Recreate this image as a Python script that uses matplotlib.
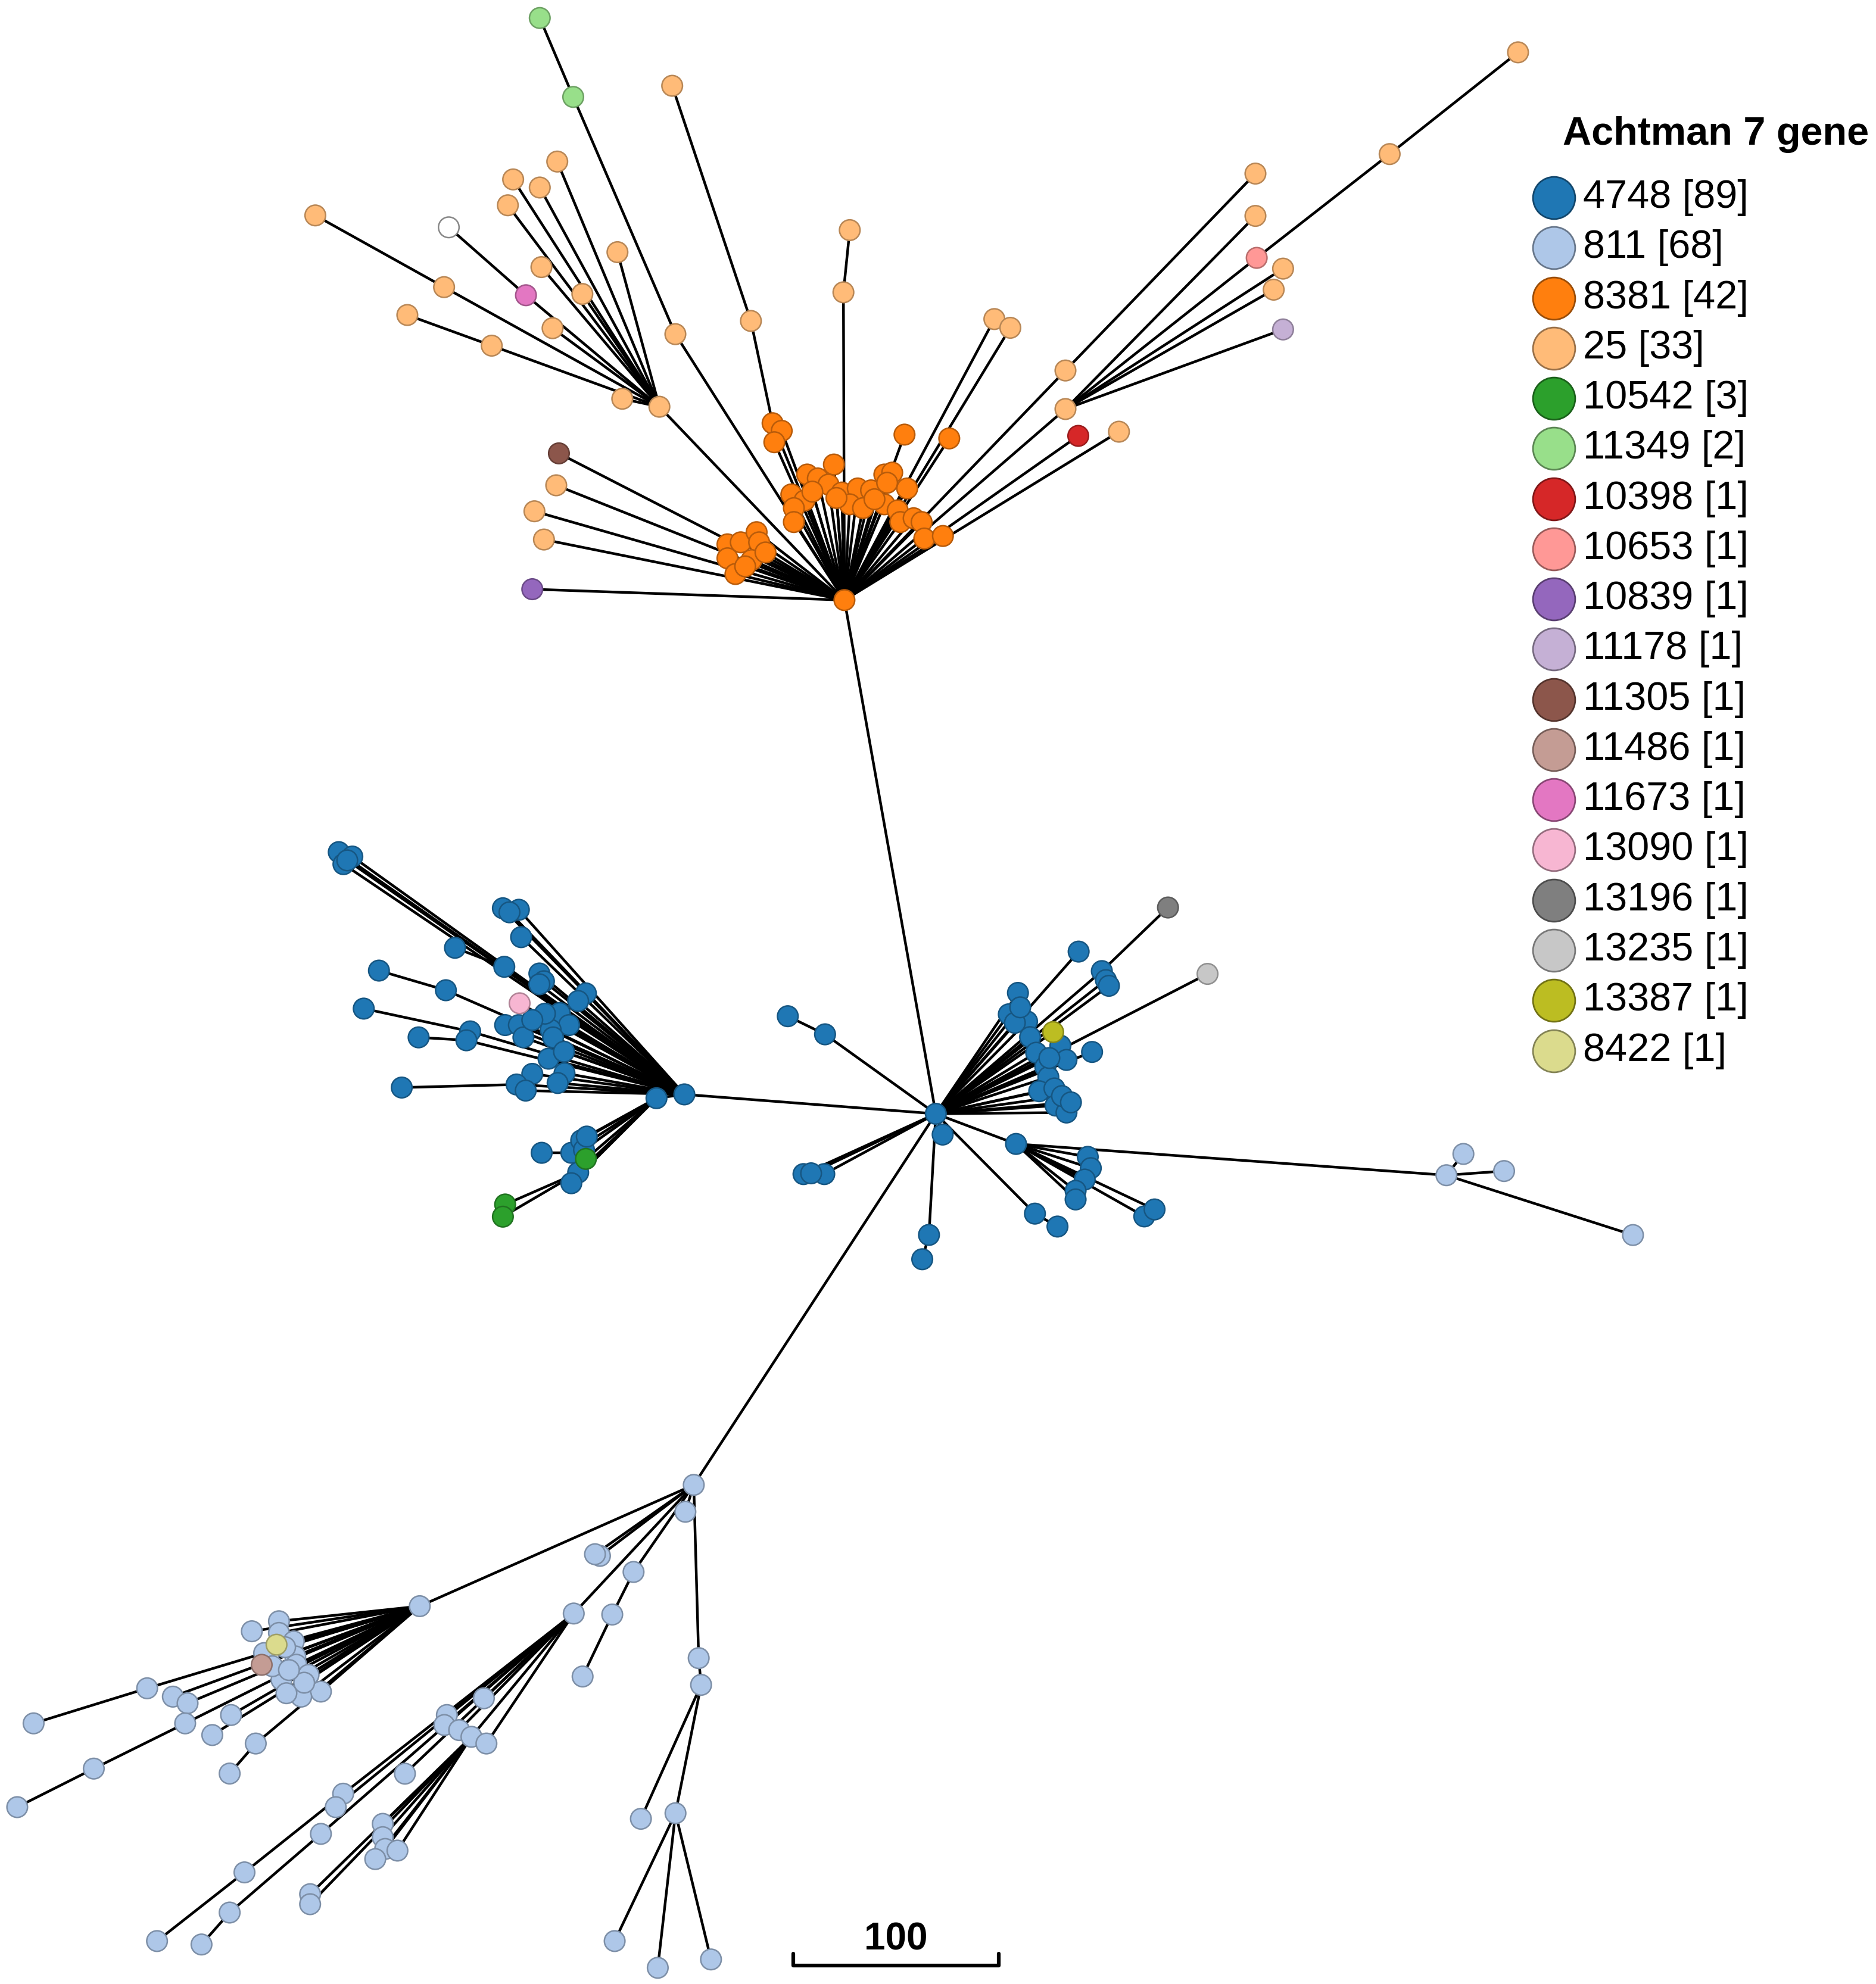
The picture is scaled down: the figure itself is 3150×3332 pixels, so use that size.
import matplotlib
matplotlib.use("Agg")
import matplotlib.pyplot as plt
from matplotlib.collections import LineCollection
import matplotlib.colors as mcolors

plt.rcParams['font.family'] = ['Liberation Sans', 'DejaVu Sans']

# ---------------- legend data ----------------
legend_st = ["4748", "811", "8381", "25", "10542", "11349", "10398", "10653", "10839",
             "11178", "11305", "11486", "11673", "13090", "13196", "13235", "13387", "8422"]
legend_counts = [89, 68, 42, 33, 3, 2, 1, 1, 1, 1, 1, 1, 1, 1, 1, 1, 1, 1]
legend_colors = ["#1f77b4", "#aec7e8", "#ff7f0e", "#ffbb78", "#2ca02c", "#98df8a", "#d62728",
                 "#ff9896", "#9467bd", "#c5b0d5", "#8c564b", "#c49c94", "#e377c2", "#f7b6d2",
                 "#7f7f7f", "#c7c7c7", "#bcbd22", "#dbdb8d"]
legend_title = "Achtman 7 gene"
scale_label = "100"
scale_length = 162  # layout units representing 100 allelic differences

# ---------------- tree nodes: (id, x, y, ST, parent) ----------------
center_nodes = [
    ("c", 738.4, 879.0, "4748", None),
    ("h0", 666.3, 473.6, "8381", "c"),
    ("B", 547.4, 1171.9, "811", "c"),
    ("L", 540.0, 863.7, "4748", "c"),
    ("L2", 518.0, 866.7, "4748", "L"),
    ("m1", 651.0, 816.3, "4748", "c"), ("m2", 621.6, 802.0, "4748", "m1"),
    ("m3", 650.4, 926.6, "4748", "c"), ("m4", 634.0, 926.6, "4748", "c"),
    ("m8", 640.0, 926.0, "4748", "c"),
    ("m5", 743.8, 895.4, "4748", "c"),
    ("m6", 733.0, 974.6, "4748", "c"), ("m7", 727.7, 993.8, "4748", "m6"),
]

orange_nodes = [
    ("o1", 609.6, 334.0), ("o2", 616.8, 340.0), ("o3", 611.0, 349.0), ("o4", 713.7, 343.0),
    ("o5", 749.0, 346.0), ("o6", 636.9, 374.5), ("o7", 645.3, 377.6), ("o8", 658.0, 366.6),
    ("o9", 653.7, 382.4), ("o10", 664.2, 388.7), ("o11", 676.8, 385.5), ("o12", 687.3, 387.0),
    ("o13", 697.8, 374.5), ("o14", 704.0, 373.0), ("o15", 715.8, 385.5), ("o16", 624.4, 390.2),
    ("o17", 634.8, 395.0), ("o18", 626.4, 401.0), ("o19", 626.4, 412.0), ("o20", 670.5, 398.0),
    ("o21", 681.0, 401.0), ("o22", 697.8, 398.0), ("o23", 708.3, 402.8), ("o24", 710.4, 412.0),
    ("o25", 720.9, 409.0), ("o26", 727.2, 412.0), ("o27", 729.3, 425.0), ("o28", 744.0, 423.0),
    ("o29", 574.0, 429.6), ("o30", 584.5, 428.0), ("o31", 597.0, 420.0), ("o32", 599.0, 428.0),
    ("o33", 574.0, 440.6), ("o34", 593.0, 442.0), ("o35", 580.3, 453.0), ("o36", 641.0, 388.0),
    ("o37", 690.0, 394.0), ("o38", 660.0, 393.0), ("o39", 604.0, 436.0), ("o40", 588.0, 447.0),
    ("o41", 700.0, 381.0),
]

top_nodes = [
    ("s1", 520.3, 321.0, "25", "h0"),
    ("a1", 350.4, 226.6, "25", "s1"), ("a2", 248.8, 170.0, "25", "a1"),
    ("a3", 388.0, 272.8, "25", "s1"), ("a4", 321.4, 248.6, "25", "a3"),
    ("a5", 491.0, 314.7, "25", "s1"),
    ("a6", 439.7, 127.5, "25", "s1"), ("a7", 404.9, 141.6, "25", "s1"),
    ("a8", 425.9, 148.0, "25", "s1"), ("a9", 400.7, 162.0, "25", "s1"),
    ("a10", 427.2, 210.8, "25", "s1"), ("a11", 459.5, 232.0, "25", "s1"),
    ("a12", 436.0, 259.0, "25", "s1"), ("a13", 487.2, 199.0, "25", "s1"),
    ("p1", 415.0, 233.0, "11673", "s1"), ("w1", 354.1, 179.4, "none", "p1"),
    ("a14", 532.9, 263.7, "25", "h0"), ("g1", 452.3, 76.5, "11349", "a14"),
    ("g2", 425.9, 14.2, "11349", "g1"),
    ("a15", 592.5, 253.3, "25", "o1"), ("a16", 530.4, 67.7, "25", "a15"),
    ("a17", 665.5, 230.7, "25", "h0"), ("a18", 670.5, 181.6, "25", "a17"),
    ("a19", 784.6, 251.8, "25", "h0"), ("a20", 797.2, 258.7, "25", "h0"),
    ("b1", 441.0, 357.8, "11305", "h0"), ("a21", 438.9, 383.0, "25", "h0"),
    ("a22", 421.7, 403.5, "25", "h0"), ("a23", 429.2, 425.8, "25", "h0"),
    ("pu1", 420.0, 465.0, "10839", "h0"),
    ("a24", 840.7, 292.4, "25", "h0"), ("a25", 990.6, 137.0, "25", "a24"),
    ("s2", 840.7, 322.8, "25", "h0"),
    ("a26", 990.6, 170.4, "25", "s2"), ("a27", 1012.4, 212.0, "25", "s2"),
    ("a28", 1005.0, 228.6, "25", "s2"), ("lv1", 1012.4, 260.0, "11178", "s2"),
    ("pk2", 991.6, 203.5, "10653", "s2"), ("a29", 1096.5, 121.6, "25", "pk2"),
    ("a30", 1197.8, 41.3, "25", "a29"),
    ("rd1", 850.8, 344.0, "10398", "h0"), ("a31", 882.9, 340.7, "25", "h0"),
]

left_nodes = [
    ("t1", 267.3, 672.5, "L"), ("t2", 278.0, 676.0, "L"), ("t3", 271.0, 682.0, "L"),
    ("t4", 274.0, 679.0, "L"), ("t5", 396.8, 716.8, "L"), ("t6", 409.4, 718.0, "L"),
    ("t7", 411.2, 739.6, "L"), ("t8", 402.0, 720.0, "L"), ("t9", 397.9, 763.0, "L"),
    ("t10", 359.0, 748.0, "t9"), ("t11", 351.8, 781.5, "L"), ("t12", 299.0, 766.0, "t11"),
    ("t13", 425.6, 768.3, "L"), ("t14", 429.2, 774.4, "L"), ("t15", 425.6, 776.8, "L"),
    ("t16", 462.3, 784.0, "L"), ("t17", 456.2, 790.0, "L"), ("t18", 371.0, 814.0, "L"),
    ("t19", 287.0, 796.0, "t18"), ("t20", 368.0, 821.0, "L"), ("t21", 441.7, 799.5, "L"),
    ("t22", 449.0, 809.0, "L"), ("t23", 398.6, 809.0, "L"), ("t24", 409.4, 809.0, "L"),
    ("t25", 413.0, 818.7, "L"), ("t26", 434.5, 812.7, "L"), ("t27", 436.4, 818.7, "L"),
    ("t28", 330.3, 818.7, "t20"), ("t29", 432.8, 835.5, "L"), ("t30", 420.0, 847.5, "L"),
    ("t31", 445.4, 847.0, "L"), ("t32", 440.0, 854.7, "L"), ("t33", 407.6, 855.9, "L"),
    ("t34", 317.0, 858.3, "t33"), ("t35", 414.8, 860.7, "L"), ("t36", 430.0, 800.0, "L"),
    ("t37", 420.0, 805.0, "L"), ("t38", 445.0, 830.0, "L"),
    ("u1", 450.8, 909.8, "L2"), ("u2", 427.4, 909.8, "u1"), ("u3", 458.6, 900.0, "L2"),
    ("u4", 460.8, 907.4, "L2"), ("u5", 456.2, 925.4, "L2"), ("u6", 450.8, 933.8, "L2"),
    ("u7", 463.0, 897.0, "L2"),
]
left_special = [
    ("pk3", 410.0, 791.8, "13090", "L"),
    ("gr1", 462.3, 914.6, "10542", "L2"),
    ("gr2", 398.6, 950.6, "10542", "u5"),
    ("gr3", 396.8, 960.2, "10542", "u5"),
]

right_nodes = [
    ("r1", 851.1, 751.0, "c"), ("r2", 869.4, 766.4, "c"), ("r3", 872.6, 773.5, "c"),
    ("r4", 875.0, 778.0, "c"), ("r5", 803.2, 783.6, "c"), ("r6", 796.0, 800.5, "c"),
    ("r7", 810.4, 806.1, "c"), ("r8", 800.8, 807.2, "c"), ("r9", 812.8, 818.5, "c"),
    ("r10", 836.7, 825.2, "c"), ("r11", 861.7, 830.2, "c"), ("r12", 817.6, 830.8, "c"),
    ("r13", 841.5, 836.5, "c"), ("r14", 824.8, 842.0, "c"), ("r15", 827.2, 850.0, "c"),
    ("r16", 820.0, 861.2, "c"), ("r17", 832.0, 859.0, "c"), ("r18", 832.9, 872.5, "c"),
    ("r19", 841.5, 878.0, "c"), ("r20", 805.0, 795.0, "c"), ("r21", 828.0, 835.0, "c"),
    ("r22", 838.0, 865.0, "c"), ("r23", 845.0, 870.0, "c"),
    ("q1", 801.7, 902.8, "c"), ("q2", 858.3, 913.0, "q1"), ("q3", 860.7, 921.9, "q1"),
    ("q4", 855.9, 930.9, "q1"), ("q5", 848.7, 939.8, "q1"), ("q6", 848.7, 946.6, "q1"),
    ("q7", 902.9, 960.0, "q1"), ("q8", 911.0, 954.5, "q1"),
    ("q9", 816.6, 957.8, "c"), ("q10", 834.4, 968.0, "q9"),
]
right_special = [
    ("gy1", 921.6, 716.2, "13196", "r2"),
    ("lg1", 952.8, 768.6, "13235", "c"),
    ("ol1", 831.0, 814.5, "13387", "c"),
]

lightblue_nodes = [
    ("n1", 1141.3, 927.5, "q1"), ("n2", 1154.7, 910.7, "n1"), ("n3", 1186.8, 924.2, "n1"),
    ("n4", 1288.5, 974.7, "n1"),
    ("v1", 540.8, 1193.1, "B"), ("v2", 473.4, 1227.9, "B"), ("v3", 469.5, 1226.6, "B"),
    ("v4", 499.9, 1240.6, "B"), ("v5", 483.1, 1274.2, "v4"), ("v6", 459.7, 1323.1, "v5"),
    ("v7", 551.3, 1308.6, "B"), ("v8", 553.2, 1329.7, "v7"), ("v9", 533.0, 1431.0, "v8"),
    ("v10", 505.7, 1435.4, "v8"), ("v11", 485.0, 1531.9, "v9"), ("v12", 519.0, 1553.0, "v9"),
    ("v13", 561.0, 1546.4, "v9"),
    ("S", 331.2, 1267.6, "B"),
    ("w1", 220.1, 1279.5, "S"), ("w2", 198.7, 1287.4, "S"), ("w3", 220.1, 1288.7, "S"),
    ("w4", 231.8, 1295.4, "S"), ("w5", 208.4, 1304.6, "S"), ("w6", 233.0, 1307.2, "S"),
    ("w7", 233.8, 1313.8, "S"), ("w8", 243.5, 1321.8, "S"), ("w9", 222.1, 1325.7, "S"),
    ("w10", 253.2, 1335.0, "S"), ("w11", 237.7, 1339.0, "S"), ("w12", 226.0, 1336.3, "S"),
    ("w13", 225.0, 1300.0, "S"), ("w14", 240.0, 1328.0, "S"), ("w15", 215.0, 1315.0, "S"),
    ("w16", 228.0, 1318.0, "S"),
    ("x1", 116.1, 1332.4, "S"), ("x2", 26.5, 1360.1, "x1"),
    ("x3", 136.4, 1339.0, "S"), ("x4", 148.0, 1344.2, "S"),
    ("x5", 146.1, 1360.1, "S"), ("x6", 74.0, 1395.8, "x5"), ("x7", 13.6, 1426.2, "x6"),
    ("x8", 182.3, 1353.5, "S"), ("x9", 167.5, 1369.3, "S"),
    ("x10", 201.8, 1376.0, "S"), ("x11", 181.2, 1399.7, "x10"),
    ("F", 452.7, 1273.4, "B"),
    ("y1", 381.8, 1340.3, "F"), ("y2", 352.6, 1353.5, "F"), ("y3", 350.6, 1361.4, "F"),
    ("y4", 362.3, 1365.4, "F"), ("y5", 372.0, 1370.7, "F"), ("y6", 383.8, 1376.0, "F"),
    ("y7", 319.5, 1399.8, "F"), ("y8", 270.8, 1415.6, "F"), ("y9", 192.9, 1477.7, "y8"),
    ("y10", 123.9, 1531.9, "y9"), ("y11", 264.9, 1426.2, "F"), ("y12", 253.2, 1447.3, "F"),
    ("y13", 181.2, 1509.4, "y12"), ("y14", 159.0, 1534.6, "y13"),
    ("z1", 302.0, 1439.4, "y5"), ("z2", 302.0, 1449.9, "y5"), ("z3", 303.9, 1459.2, "y5"),
    ("z4", 313.6, 1460.5, "y5"), ("z5", 296.1, 1467.2, "y5"), ("z6", 244.7, 1494.9, "y5"),
    ("z7", 244.7, 1502.8, "y5"),
]
bottom_special = [
    ("ye1", 218.2, 1298.0, "8422", "S"),
    ("br2", 206.5, 1313.9, "11486", "S"),
]

# ---------------- assemble ----------------
nodes = []
nodes += center_nodes
nodes += [(i, x, y, "8381", "h0") for i, x, y in orange_nodes]
nodes += top_nodes
nodes += [(i, x, y, "4748", p) for i, x, y, p in left_nodes]
nodes += left_special
nodes += [(i, x, y, "4748", p) for i, x, y, p in right_nodes]
nodes += right_special
nodes += [(i, x, y, "811", p) for i, x, y, p in lightblue_nodes]
nodes += bottom_special

pos = {n[0]: (n[1], n[2]) for n in nodes}
color_of = dict(zip(legend_st, legend_colors))
color_of["none"] = "#ffffff"


def darker(c, f=0.72):
    r, g, b = mcolors.to_rgb(c)
    return (r * f, g * f, b * f)


W, H = 3150, 3332
fig = plt.figure(figsize=(W / 100, H / 100), dpi=100)
ax = fig.add_axes([0, 0, 1, 1])
ax.set_xlim(0, W / 2.128)
ax.set_ylim(H / 2.128, 0)
ax.axis("off")

segs = [(pos[p], (x, y)) for i, x, y, st, p in nodes if p is not None]
ax.add_collection(LineCollection(segs, colors="black", linewidths=3.2, zorder=1))

xs = [n[1] for n in nodes]
ys = [n[2] for n in nodes]
fc = [color_of[n[3]] for n in nodes]
ec = ["#888888" if n[3] == "none" else darker(color_of[n[3]]) for n in nodes]
ax.scatter(xs, ys, s=620, c=fc, edgecolors=ec, linewidths=1.8, zorder=2)

# ---------------- legend ----------------
ax.text(1233, 106, legend_title, fontsize=48, fontweight="bold", ha="left", va="center",
        zorder=5)
for k, (st, cnt, col) in enumerate(zip(legend_st, legend_counts, legend_colors)):
    yy = 156 + k * 39.6
    ax.scatter([1226], [yy], s=2600, c=[col], edgecolors=[darker(col, 0.6)],
               linewidths=2.0, zorder=5)
    ax.text(1249, yy, f"{st} [{cnt}]", fontsize=48, ha="left", va="center", zorder=5)

# ---------------- scale bar ----------------
x0 = 626
ax.plot([x0, x0, x0 + scale_length, x0 + scale_length], [1542, 1551, 1551, 1542],
        color="black", lw=4.5, solid_capstyle="round", solid_joinstyle="round", zorder=5)
ax.text(x0 + scale_length / 2, 1531, scale_label, fontsize=46, fontweight="bold",
        ha="center", va="center", zorder=5)

fig.savefig("out.png", dpi=100, facecolor="white")
